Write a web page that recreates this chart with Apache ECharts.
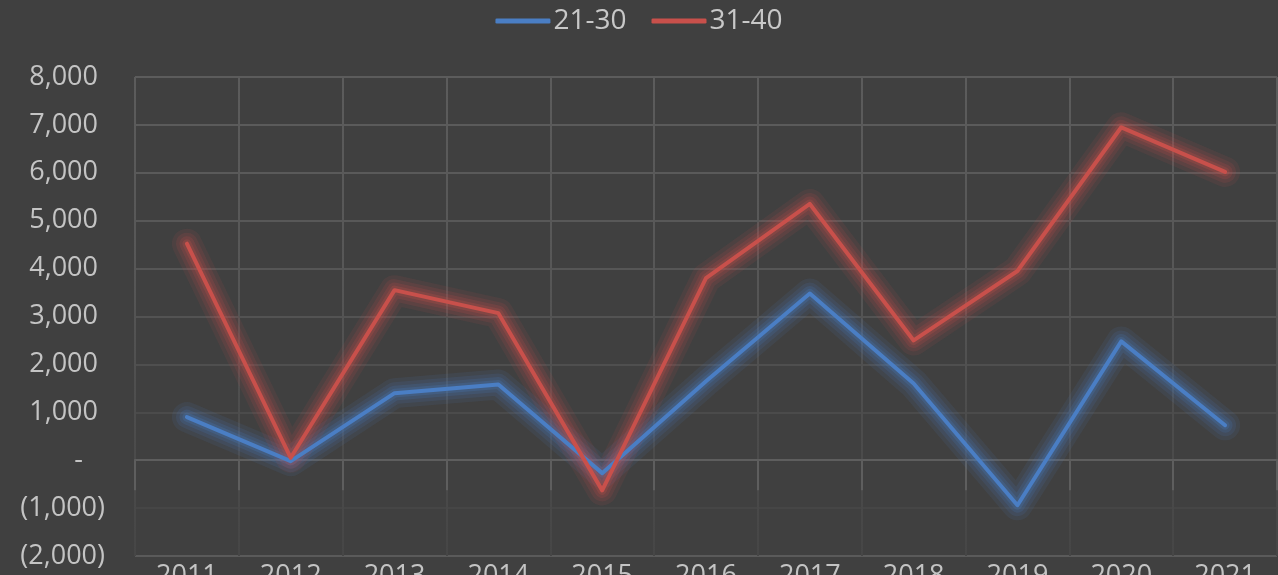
<!DOCTYPE html>
<html>
<head>
<meta charset="utf-8">
<script src="https://cdn.jsdelivr.net/npm/echarts@6/dist/echarts.min.js"></script>
<style>
html,body{margin:0;padding:0;background:#404040;}
#c{width:1278px;height:575px;}
</style>
</head>
<body>
<div id="c"></div>
<script>
const categories = ['2011','2012','2013','2014','2015','2016','2017','2018','2019','2020','2021'];
const series2130 = [900, -20, 1400, 1580, -270, 1650, 3480, 1600, -940, 2480, 730];
const series3140 = [4520, 50, 3550, 3070, -630, 3800, 5350, 2500, 3950, 6950, 6020];
const seriesNames = ['21-30', '31-40'];

const chart = echarts.init(document.getElementById('c'));
const fontFam = '"Open Sans", "Noto Sans", sans-serif';
const textColor = '#c4c4c4';

function fmtY(v) {
  if (v === 0) return '{z|-}';
  const s = Math.abs(v).toLocaleString('en-US');
  return v < 0 ? '{n|(' + s + ')}' : '{p|' + s + '}';
}

const hColors = ['#5a5a5a','#464646','#484848','#4b4b4b','#4f4f4f','#535353','#565656','#585858','#5a5a5a','#5b5b5b','#5c5c5c'];

function glowSeries(data, rgb) {
  const layers = [[30, 0.10], [22, 0.13], [15, 0.17], [9, 0.22]];
  return layers.map(function (l) {
    return { type: 'line', data: data, showSymbol: false, symbol: 'none', silent: true, z: 1,
      lineStyle: { width: l[0], color: 'rgba(' + rgb + ',' + l[1] + ')', cap: 'round', join: 'round' } };
  });
}

chart.setOption({
  backgroundColor: '#404040',
  animation: false,
  legend: {
    top: 2,
    left: 'center',
    itemWidth: 55,
    itemHeight: 5,
    itemGap: 25,
    icon: 'roundRect',
    textStyle: { color: '#c8c8c8', fontSize: 28, fontFamily: fontFam, padding: [0,0,0,-2] },
    data: seriesNames
  },
  grid: { left: 135, right: 1, top: 77, bottom: 19, containLabel: false, outerBoundsMode: 'none' },
  xAxis: {
    type: 'category',
    data: categories,
    boundaryGap: true,
    axisLine: { show: true, lineStyle: { color: '#5e5e5e', width: 2 } },
    axisTick: { show: true, length: 30, lineStyle: { color: '#5e5e5e', width: 2 } },
    axisLabel: { color: textColor, fontSize: 27, fontFamily: fontFam, margin: 7 },
    splitLine: {
      show: true,
      lineStyle: {
        width: 2,
        color: new echarts.graphic.LinearGradient(0, 0, 0, 1, [
          { offset: 0, color: '#5c5c5c' },
          { offset: 0.4, color: '#575757' },
          { offset: 0.7, color: '#4d4d4d' },
          { offset: 1, color: '#464646' }
        ])
      }
    }
  },
  yAxis: {
    type: 'value',
    min: -2000,
    max: 8000,
    interval: 1000,
    axisLine: { show: false },
    axisTick: { show: false },
    axisLabel: {
      fontSize: 27, fontFamily: fontFam, color: textColor, margin: 30,
      formatter: fmtY,
      rich: {
        p: { fontSize: 27, fontFamily: fontFam, color: textColor, padding: [0, 7, 0, 0] },
        n: { fontSize: 27, fontFamily: fontFam, color: textColor },
        z: { fontSize: 27, fontFamily: fontFam, color: textColor, padding: [0, 22, 0, 0] }
      }
    },
    splitLine: { show: true, lineStyle: { width: 2, color: hColors } }
  },
  series: [
    ...glowSeries(series2130, '74,126,196'),
    ...glowSeries(series3140, '200,80,75'),
    {
      name: seriesNames[0], type: 'line', data: series2130, showSymbol: false, symbol: 'none', z: 3,
      color: '#4a7ec4',
      lineStyle: { width: 4, color: '#4a7ec4', cap: 'round', join: 'round' }
    },
    {
      name: seriesNames[1], type: 'line', data: series3140, showSymbol: false, symbol: 'none', z: 3,
      color: '#c8504b',
      lineStyle: { width: 4, color: '#c8504b', cap: 'round', join: 'round' }
    }
  ]
});
</script>
</body>
</html>
